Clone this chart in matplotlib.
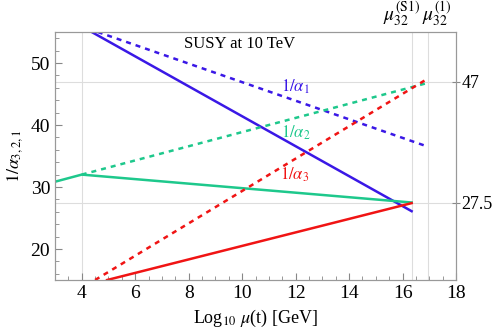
import numpy as np
import matplotlib.pyplot as plt
from matplotlib.ticker import MultipleLocator

plt.rcParams['font.family'] = ['Liberation Serif', 'DejaVu Serif']
plt.rcParams['mathtext.fontset'] = 'stix'

# solid lines (one-loop, with SUSY threshold at 10 TeV)
x_a1 = [3.0, 4.0, 16.34]
a1 = [58.4, 55.9, 26.1]
x_a2 = [3.0, 4.0, 16.34]
a2 = [30.85, 32.0, 27.5]
x_a3 = [4.95, 16.34]
a3 = [15.0, 27.4]

# dashed lines
x_d1 = [4.6, 16.95]
d1 = [55.0, 36.5]
x_d2 = [4.0, 16.95]
d2 = [32.0, 46.8]
x_d3 = [4.5, 16.95]
d3 = [15.0, 47.5]

mu_S1 = 16.34
mu_1 = 16.97
y_marks = [47, 27.5]

blue = '#3a18e6'
green = '#1ec88c'
red = '#f01414'

fig = plt.figure(figsize=(4.97, 3.36), dpi=100)
ax = fig.add_axes([55/497, 56/336, 401/497, 248/336])

gridc = '#dddddd'
for yv in y_marks:
    ax.axhline(yv, color=gridc, lw=0.8, zorder=0)
for xv in [4, mu_S1, mu_1]:
    ax.axvline(xv, color=gridc, lw=0.8, zorder=0)

ax.plot(x_a1, a1, color=blue, lw=1.8)
ax.plot(x_a2, a2, color=green, lw=1.8)
ax.plot(x_a3, a3, color=red, lw=1.8)
ax.plot(x_d1, d1, color=blue, lw=1.8, ls=(0, (2, 2)))
ax.plot(x_d2, d2, color=green, lw=1.8, ls=(0, (2, 2)))
ax.plot(x_d3, d3, color=red, lw=1.8, ls=(0, (2, 2)))

ax.text(12.0, 46.1, r'$1/\alpha_1$', color=blue, fontsize=12, ha='center', va='center')
ax.text(12.0, 38.8, r'$1/\alpha_2$', color=green, fontsize=12, ha='center', va='center')
ax.text(11.98, 31.9, r'$1/\alpha_3$', color=red, fontsize=12, ha='center', va='center')
ax.text(9.9, 53.1, 'SUSY at 10 TeV', fontsize=12, ha='center', va='center')

ax.set_xlim(3, 18)
ax.set_ylim(15, 55)
ax.xaxis.set_major_locator(MultipleLocator(2))
ax.xaxis.set_minor_locator(MultipleLocator(0.5))
ax.yaxis.set_major_locator(MultipleLocator(10))
ax.yaxis.set_minor_locator(MultipleLocator(2))
ax.tick_params(which='both', direction='in', color='#888888', labelsize=14)
ax.tick_params(which='major', length=5)
ax.tick_params(which='minor', length=3)
for s in ax.spines.values():
    s.set_color('#999999')

axr = ax.twinx()
axr.set_ylim(15, 55)
axr.set_yticks(y_marks)
axr.set_yticklabels(['47', '27.5'])
axr.tick_params(direction='inout', length=6, color='#888888', labelsize=13, pad=1)
for s in axr.spines.values():
    s.set_color('#999999')

# top labels for the unification scales
trans = ax.get_xaxis_transform()
ax.text(15.98, 1.07, r'$\mu_{32}^{\rm (S1)}$', transform=trans, fontsize=14,
        ha='center', va='center')
ax.text(17.29, 1.07, r'$\mu_{32}^{(1)}$', transform=trans, fontsize=14,
        ha='center', va='center')

ax.set_xlabel(r'Log$_{10}$ $\mu$(t) [GeV]', fontsize=13)
ax.set_ylabel(r'$1/\alpha_{3,2,1}$', fontsize=13, labelpad=4)

fig.savefig('out.png', dpi=100)
